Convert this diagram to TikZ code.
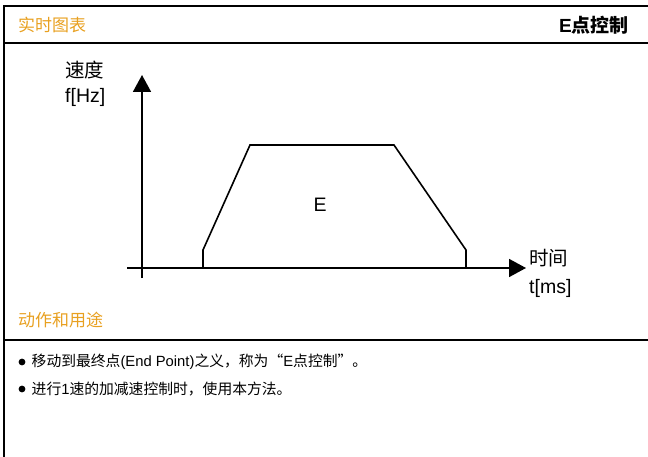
\documentclass[tikz,border=0pt]{standalone}
\usepackage{fontspec}
\setmainfont{Liberation Sans}
\newfontfamily\cjk{Noto Sans CJK SC}
\usetikzlibrary{arrows.meta}
\definecolor{hdr}{RGB}{232,160,32}
\begin{document}
\begin{tikzpicture}[x=1pt,y=-1pt,
  frame/.style={line width=2pt},
  axis/.style={line width=1.8pt},
  curve/.style={line width=1.6pt, line join=miter},
  head/.style={anchor=west, inner sep=0pt, text=hdr, font=\fontsize{17}{20}\selectfont\cjk},
  lbl/.style={anchor=west, inner sep=0pt, font=\fontsize{19.5}{22}\selectfont},
  body/.style={anchor=west, inner sep=0pt, font=\fontsize{14.8}{17}\selectfont},
  tip/.style={-{Triangle[length=17pt,width=18pt]}}]
\useasboundingbox (0,0) rectangle (648,457);
% frame
\draw[frame] (4,457) -- (4,6) -- (648,6);
\draw[frame] (4,43) -- (648,43);
\draw[frame] (4,340) -- (648,340);
% headers
\node[head] (h1) at (18,25) {实时图表};
\node[anchor=east, inner sep=0pt, font=\fontsize{19}{22}\selectfont\bfseries] (h2) at (629,25) {E{\cjk\bfseries 点控制}};
\node[head] (h3) at (18,320) {动作和用途};
% axes
\coordinate (ybot) at (142,278);
\coordinate (ytop) at (142,75);
\coordinate (xl) at (127,268);
\coordinate (xr) at (526,268);
\draw[axis,tip] (ybot) -- (ytop);
\draw[axis,tip] (xl) -- (xr);
% trapezoid
\coordinate (p0) at (203,268);
\coordinate (p1) at (203,250);
\coordinate (p2) at (250,145);
\coordinate (p3) at (394,145);
\coordinate (p4) at (466,250);
\coordinate (p5) at (466,268);
\draw[curve] (p0) -- (p1) -- (p2) -- (p3) -- (p4) -- (p5);
% labels
\node[lbl] (v1) at (65,70) {\cjk 速度};
\node[lbl] (v2) at (65,97) {f[Hz]};
\node[lbl, anchor=center] (e) at (320,205) {E};
\node[lbl] (t1) at (529,258) {\cjk 时间};
\node[lbl] (t2) at (529,288) {t[ms]};
% bullets
\fill (22,362) circle (3.4pt);
\fill (22,389) circle (3.4pt);
\node[body] (b1) at (31.5,362) {{\cjk 移动到最终点}(End Point){\cjk 之义，称为“}E{\cjk 点控制”。}};
\node[body] (b2) at (31.5,389) {{\cjk 进行}1{\cjk 速的加减速控制时，使用本方法。}};
\end{tikzpicture}
\end{document}
